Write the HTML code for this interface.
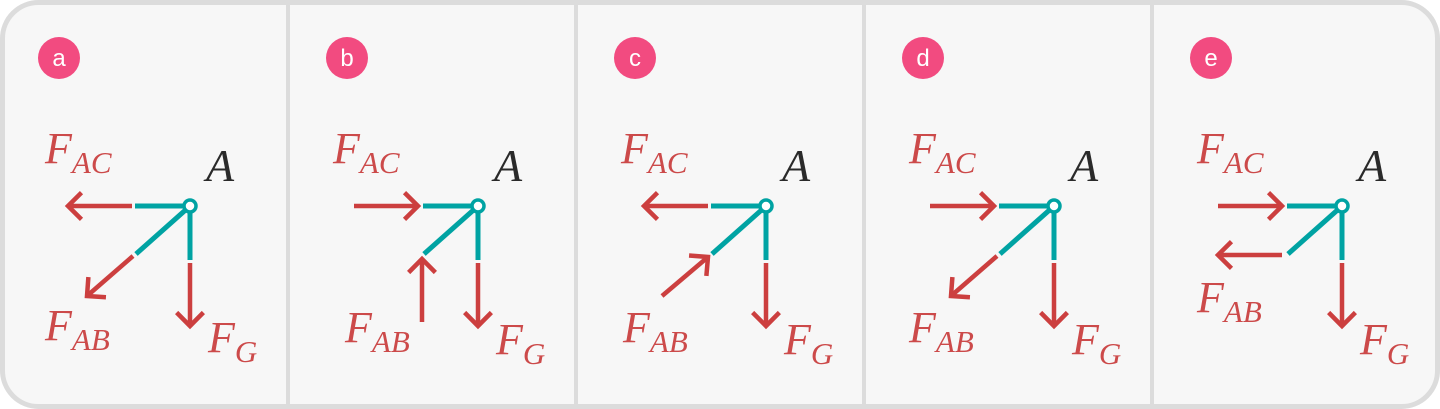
<!DOCTYPE html>
<html><head><meta charset="utf-8"><style>
html,body{margin:0;padding:0;background:#fff;}
svg{display:block;}
.lab{font-family:"Liberation Serif",serif;font-style:italic;fill:#cc4a4a;}
.a{font-family:"Liberation Serif",serif;font-style:italic;fill:#2a2a2a;}
.badge-t{font-family:"Liberation Sans",sans-serif;fill:#fff;font-size:24px;}
</style></head><body>
<svg id="s" width="1440" height="409" viewBox="0 0 1440 409">
<rect x="2.5" y="2.5" width="1435" height="404" rx="36" fill="#f7f7f7" stroke="#dcdcdc" stroke-width="5"/>
</svg>
<script>
const labels=['a','b','c','d','e'];
const facDir=[-1,1,-1,1,1];
const fabType=['downleft','up','upright','downleft','left'];
const NS='http://www.w3.org/2000/svg';
const s=document.getElementById('s');
function el(t,a,p){const e=document.createElementNS(NS,t);for(const k in a)e.setAttribute(k,a[k]);(p||s).appendChild(e);return e;}
const R='#cc3f3f',T='#00a3a3';
function arrow(g,x1,y1,x2,y2){
  el('line',{x1,y1,x2,y2,stroke:R,'stroke-width':4.5},g);
  const ang=Math.atan2(y2-y1,x2-x1),L=19;
  const p=[ang+2.36,ang-2.36].map(a=>[x2+L*Math.cos(a),y2+L*Math.sin(a)]);
  el('polyline',{points:`${p[0]} ${x2},${y2} ${p[1]}`,fill:'none',stroke:R,'stroke-width':4.5},g);
}
function txt(g,x,y,main,sub,cls){
  const t=el('text',{x,y,class:cls||'lab','font-size':cls?46:44},g);
  t.textContent=main;
  if(sub){const ts=el('tspan',{dy:10,'font-size':31},t);ts.textContent=sub;}
  return t;
}
for(let i=0;i<5;i++){
  const ox=i*288;
  const g=el('g',{});
  
  
  if(i>0){const d=el('line',{x1:ox,y1:5,x2:ox,y2:404,stroke:'#dcdcdc','stroke-width':4},g);
    }
  const b=el('circle',{cx:ox+59,cy:58,r:21,fill:'#f24b80'},g);
  
  const bt=el('text',{x:ox+59,y:66,'text-anchor':'middle',class:'badge-t'},g);bt.textContent=labels[i];
  const cx=ox+190,cy=206;
  el('line',{x1:ox+135,y1:cy,x2:cx,y2:cy,stroke:T,'stroke-width':5},g);
  el('line',{x1:cx,y1:cy,x2:cx,y2:260,stroke:T,'stroke-width':5},g);
  el('line',{x1:cx,y1:cy,x2:ox+136,y2:254,stroke:T,'stroke-width':5},g);
  el('circle',{cx,cy,r:6,fill:'#fff',stroke:T,'stroke-width':3.5},g);
  if(facDir[i]<0) arrow(g,ox+132,cy,ox+68,cy); else arrow(g,ox+66,cy,ox+130,cy);
  arrow(g,cx,263,cx,326);
  const ft=fabType[i];
  if(ft==='downleft') arrow(g,ox+133,256,ox+87,296);
  if(ft==='up') arrow(g,ox+134,322,ox+134,259);
  if(ft==='upright') arrow(g,ox+86,296,ox+132,257);
  if(ft==='left') arrow(g,ox+130,255,ox+66,255);
  txt(g,ox+45,163,'F','AC');
  txt(g,ox+206,181,'A',null,'a');
  const fabPos={downleft:[45,342],up:[57,342],upright:[47,342],left:[45,312]}[ft];
  if(i===0) fabPos[1]=340;
  txt(g,ox+208,i===0?352:354,'F','G');
  txt(g,ox+fabPos[0],fabPos[1],'F','AB');
}
</script>
</body></html>
